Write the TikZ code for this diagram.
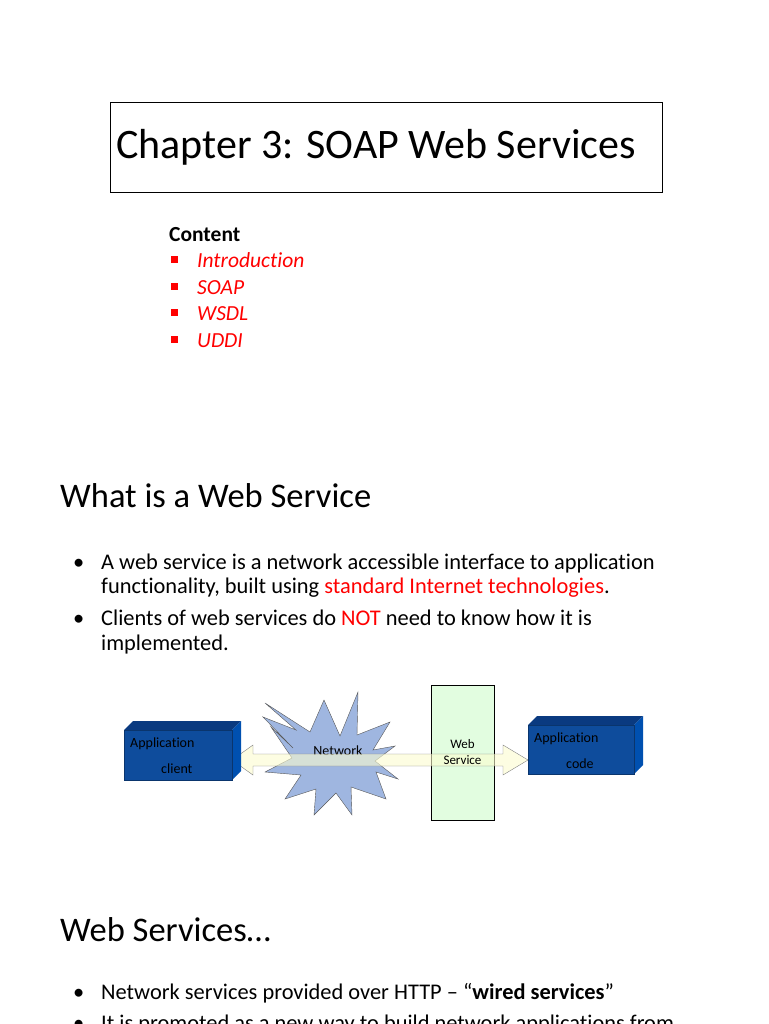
\documentclass[tikz,border=0pt]{standalone}
\usepackage{fontspec}
\setmainfont{Carlito}[Ligatures=NoCommon]
\definecolor{boxblue}{HTML}{0E4C9C}
\definecolor{boxtop}{HTML}{0A3A80}
\definecolor{boxside}{HTML}{0050B0}
\definecolor{starblue}{HTML}{9FB6E0}
\definecolor{wsgreen}{HTML}{E2FDE0}
\definecolor{arrowy}{HTML}{FCFDD0}
\definecolor{red1}{HTML}{FF0000}
\begin{document}
\begin{tikzpicture}[x=1pt,y=-1pt,
  txt/.style={anchor=base west,inner sep=0pt,font=\fontsize{22.4}{26}\selectfont},
  itm/.style={anchor=base west,inner sep=0pt,font=\fontsize{21.5}{24}\selectfont\itshape,text=red1},
  lab/.style={inner sep=0pt,font=\fontsize{14}{16}\selectfont},
  sq/.style={fill=red1,minimum size=7pt,inner sep=0pt}]
\useasboundingbox (0,0) rectangle (768,1024);
\fill[white] (0,0) rectangle (768,1024);
% title
\node[draw,thin,minimum width=552pt,minimum height=90pt,anchor=north west] (tb) at (110,102) {};
\node[anchor=base west,inner sep=0pt,font=\fontsize{42}{46}\selectfont] (title) at (116,159) {Chapter 3: SOAP Web Services};
\node[txt,font=\fontsize{21.5}{24}\selectfont\bfseries] (cont) at (169,241) {Content};
\foreach \n/\y/\t in {1/267/Introduction,2/294/SOAP,3/320/WSDL,4/347/UDDI}{
  \node[sq] (b\n) at (174,\y-8) {};
  \node[itm] (i\n) at (197,\y) {\t};
}
\node[txt,font=\fontsize{34.5}{38}\selectfont] (h1) at (60,507) {What is a Web Service};
\node[txt] (d1) at (73,569) {•};
\node[txt] (l1) at (101,569) {A web service is a network accessible interface to application};
\node[txt] (l2) at (101,593) {functionality, built using \textcolor{red1}{standard Internet technologies}.};
\node[txt] (d2) at (73,625) {•};
\node[txt] (l3) at (101,625) {Clients of web services do \textcolor{red1}{NOT} need to know how it is};
\node[txt] (l4) at (101,650) {implemented.};
% diagram
\fill[starblue,draw=gray!70!black,thin] (338,760)
  +(-73,-57) -- +(-28,-28) -- +(-14,-60) -- +(2,-24) -- +(20,-68) -- +(19,-25) -- +(52,-38) -- +(35,-10)
  -- +(57,-14) -- +(37,1) -- +(60,19) -- +(38,12) -- +(48,39) -- +(13,27) -- +(14,55) -- +(-2,33)
  -- +(-24,55) -- +(-22,29) -- +(-53,39) -- +(-37,15) -- +(-73,12) -- +(-46,-2) -- +(-67,-33) -- +(-45,-12)
  -- +(-75,-43) -- +(-42,-30) -- cycle;
\node[lab] (net) at (338,751) {Network};
\node[draw,fill=wsgreen,thin,minimum width=63pt,minimum height=135pt,inner sep=0pt] (ws) at (462.5,752.5) {};
\fill[arrowy,fill opacity=0.6,draw=gray,thin] (232,760) -- (253,745) -- (253,754) -- (503,754) -- (503,745) -- (528,760)
  -- (503,775) -- (503,766) -- (253,766) -- (253,775) -- cycle;
\node[lab,align=center,font=\fontsize{13}{16}\selectfont] (wst) at (462.5,752) {Web\\Service};
% left box
\fill[boxtop] (124,730) -- (133,721) -- (241,721) -- (232,730) -- cycle;
\fill[boxside] (232,730) -- (241,721) -- (241,771) -- (232,780) -- cycle;
\node[fill=boxblue,draw=boxblue!70!black,minimum width=108pt,minimum height=50pt,anchor=north west,inner sep=0pt] (lc) at (124,730) {};
\node[lab,anchor=base west] (a1) at (130,747) {Application};
\node[lab,anchor=base west] (c1) at (161,773) {client};
% right box
\fill[boxtop] (528,725) -- (537,716) -- (643,716) -- (634,725) -- cycle;
\fill[boxside] (634,725) -- (643,716) -- (643,765) -- (634,774) -- cycle;
\node[fill=boxblue,draw=boxblue!70!black,minimum width=106pt,minimum height=49pt,anchor=north west,inner sep=0pt] (rc) at (528,725) {};
\node[lab,anchor=base west] (a2) at (534,742) {Application};
\node[lab,anchor=base west] (c2) at (566,768) {code};
% last section
\node[txt,font=\fontsize{34.5}{38}\selectfont] (h2) at (60,941) {Web Services…};
\node[txt] (d3) at (73,999) {•};
\node[txt] (l5) at (101,999) {Network services provided over HTTP – “\textbf{wired services}”};
\node[txt] (d4) at (73,1030) {•};
\node[txt] (l6) at (101,1030) {It is promoted as a new way to build network applications from};
\end{tikzpicture}
\end{document}
